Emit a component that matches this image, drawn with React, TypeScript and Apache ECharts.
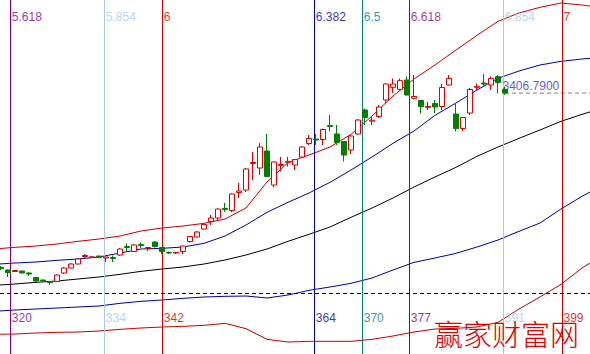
import React, { useEffect, useRef } from "react";
import * as echarts from "echarts";

// Candle bar numbers and OHLC values [open, close, low, high]
const candleBars = [
  319, 320, 321, 322, 323, 324, 325, 326, 327, 328, 329, 330, 331, 332, 333, 334, 335, 336, 337, 338,
  339, 340, 341, 342, 343, 344, 345, 346, 347, 348, 349, 350, 351, 352, 353, 354, 355, 356, 357, 358,
  359, 360, 361, 362, 363, 364, 365, 366, 367, 368, 369, 370, 371, 372, 373, 374, 375, 376, 377, 378,
  379, 380, 381, 382, 383, 384, 385, 386, 387, 388, 389, 390, 391,
];
const ohlc: number[][] = [
  [2883.5, 2880.5, 2876, 2888], [2876, 2868.5, 2855, 2877.5], [2871.5, 2874.5, 2870, 2876], [2873, 2867, 2865.5, 2873.5],
  [2867, 2864, 2858, 2870], [2853.5, 2843, 2840, 2855], [2846, 2843, 2841.5, 2847.5], [2841.5, 2838.5, 2831, 2843],
  [2841.5, 2861, 2840, 2862.5], [2867, 2882, 2864, 2885], [2882, 2894, 2880.5, 2897], [2894, 2909, 2892.5, 2912],
  [2916.5, 2919.5, 2912, 2924], [2913.5, 2915.6, 2912, 2918], [2918, 2913.5, 2912, 2918.5], [2912, 2915, 2900, 2916.5],
  [2913.5, 2910.5, 2900, 2919.5], [2921, 2939, 2918, 2942], [2946.5, 2943.5, 2933, 2955.5], [2931.5, 2951, 2930, 2954],
  [2952.5, 2949.5, 2942, 2958.5], [2940.5, 2943.5, 2933, 2945], [2960, 2946.5, 2943.5, 2961.5], [2943.5, 2931.5, 2924, 2945],
  [2928.5, 2927, 2924, 2931.5], [2927, 2929, 2924, 2930], [2931.5, 2948, 2924, 2949.5], [2961.5, 2976.5, 2958.5, 2978],
  [2975, 2990, 2973.5, 2993], [2999, 3012.5, 2997.5, 3014], [3021.5, 3032, 3011, 3041], [3032, 3059, 3023, 3060.5],
  [3060.5, 3057.5, 3050, 3077], [3054.5, 3104, 3050, 3105.5], [3108.5, 3113, 3092, 3137], [3116, 3179, 3110, 3182],
  [3195.5, 3198.5, 3146, 3230], [3182, 3245, 3161, 3257], [3233, 3156.5, 3155, 3284], [3131, 3200, 3123.5, 3201.5],
  [3189.5, 3192.5, 3171.5, 3215], [3199, 3202, 3186.5, 3215], [3191, 3207.5, 3176, 3209], [3215, 3245, 3212, 3248],
  [3255.5, 3270.5, 3251, 3281], [3269, 3266, 3251, 3284], [3267.5, 3297.5, 3251, 3300.5], [3309.5, 3306.5, 3291.5, 3341],
  [3284, 3258.5, 3251, 3311], [3261.5, 3221, 3201.5, 3263], [3236, 3278, 3224, 3279.5], [3284, 3326, 3281, 3329],
  [3356, 3333.5, 3311, 3360.5], [3322.4, 3325.4, 3311, 3336.5], [3336.5, 3365, 3332, 3371], [3386, 3434, 3375.5, 3435.5],
  [3424, 3434, 3407, 3450.5], [3418, 3444, 3416, 3450.5], [3446, 3401, 3399.5, 3456.5], [3391, 3396.5, 3387.5, 3461],
  [3384.5, 3366.5, 3345.5, 3386], [3364, 3366.5, 3356, 3380], [3375.5, 3365, 3347, 3386], [3366.5, 3423.5, 3356, 3434],
  [3431, 3450.5, 3429.5, 3461], [3344, 3300.5, 3291.5, 3375.5], [3300.5, 3333.5, 3293, 3335], [3347, 3417.5, 3341, 3422],
  [3424, 3427, 3416, 3435.5], [3437, 3434, 3425, 3464], [3431, 3450.5, 3416, 3456.5], [3456, 3438, 3406, 3461],
  [3418, 3406.79, 3401, 3426.5],
];

// Band lines sampled at these bar numbers
const bandBars = [
  318, 321, 324, 327, 330, 333, 336, 339, 342, 345, 348, 351, 354, 357, 360,
  363, 366, 369, 372, 375, 378, 381, 384, 387, 390, 393, 396, 399, 402, 405,
];
const upperRed = [2939, 2944, 2948, 2954, 2962, 2969, 2978, 2993, 3002, 3008, 3016, 3029, 3062, 3140, 3198, 3221, 3245, 3283, 3338, 3398, 3449, 3491, 3536, 3580, 3622, 3647, 3664, 3677, 3671, 3662];
const upperBlue = [2893, 2897, 2900, 2905, 2909, 2915, 2927, 2939, 2941, 2945, 2956, 2978, 3011, 3049, 3079, 3107, 3139, 3176, 3215, 3256, 3293, 3340, 3377, 3416, 3451, 3473, 3491, 3502, 3509, 3515];
const middle = [2830, 2834, 2839, 2843, 2849, 2855, 2863, 2872, 2879, 2885, 2894, 2906, 2921, 2939, 2962, 2983, 3005, 3034, 3062, 3092, 3125, 3155, 3184, 3217, 3245, 3271, 3296, 3322, 3343, 3362];
const lowerBlue = [2752, 2756, 2759, 2762, 2765, 2768, 2776, 2782, 2786, 2791, 2795, 2797, 2798, 2792, 2801, 2815, 2825, 2836, 2852, 2876, 2899, 2912, 2926, 2945, 2966, 2992, 3017, 3059, 3097, 3131];
const lowerRed = [2683, 2684, 2687, 2689, 2690, 2693, 2698, 2702, 2705, 2707, 2710, 2716, 2700, 2668, 2660, 2662, 2662, 2662, 2668, 2678, 2690, 2699, 2701, 2705, 2719, 2759, 2795, 2833, 2882, 2921];

// Fibonacci time lines
const fibRatios = ["5.618", "5.854", "6", "6.382", "6.5", "6.618", "6.854", "7"];
const fibBarLabels = ["320", "334", "342", "364", "370", "377", "391", "399"];
const fibBars = [320.33, 333.76, 342.04, 363.76, 370.61, 377.33, 390.76, 399.14];
const fibColors = ["#800080", "#a6caf0", "#cc0000", "#0000b0", "#008080", "#800080", "#a6caf0", "#cc0000"];

const lastPrice = 3406.79;
const lastPriceText = "3406.7900";
const dashedLevel = 2806;

const X_MIN = 318.857;
const X_MAX = 403.143;
const Y_MIN = 2624;
const Y_MAX = 3686;
const TOP_LABEL_Y = 3636;
const BOTTOM_LABEL_Y = 2733;

export default function App() {
  const ref = useRef<HTMLDivElement>(null);
  useEffect(() => {
    if (!ref.current) return;
    const chart = echarts.init(ref.current, null, { renderer: "svg" });
    const zip = (ys: number[]) => bandBars.map((b, i) => [b, ys[i]]);
    const bandSeries = (name: string, ys: number[], color: string) => ({
      name,
      type: "line",
      data: zip(ys),
      symbol: "none",
      silent: true,
      lineStyle: { color, width: 1 },
      z: 3,
    });
    const font = "Liberation Sans, Arial, sans-serif";
    chart.setOption({
      animation: false,
      backgroundColor: "#ffffff",
      grid: { left: 0, right: 0, top: 0, bottom: 0 },
      xAxis: { type: "value", min: X_MIN, max: X_MAX, show: false },
      yAxis: { type: "value", min: Y_MIN, max: Y_MAX, show: false, scale: true },
      series: [
        {
          name: "fib",
          type: "line",
          data: [],
          silent: true,
          markLine: {
            silent: true,
            symbol: "none",
            label: { show: false },
            data: [
              ...fibBars.map((b, i) => ({ xAxis: b, lineStyle: { color: fibColors[i], width: 1, type: "solid" } })),
              { yAxis: dashedLevel, lineStyle: { color: "#000000", width: 1, type: [4, 3] } },
            ],
          },
          z: 1,
        },
        bandSeries("upperRed", upperRed, "#c80000"),
        bandSeries("upperBlue", upperBlue, "#0000a8"),
        bandSeries("middle", middle, "#000000"),
        bandSeries("lowerBlue", lowerBlue, "#0000a8"),
        bandSeries("lowerRed", lowerRed, "#c80000"),
        {
          name: "priceLine",
          type: "line",
          data: [[candleBars[candleBars.length - 1], lastPrice], [X_MAX + 1, lastPrice]],
          symbol: "none",
          silent: true,
          lineStyle: { color: "#808080", width: 1, type: [4, 3] },
          z: 2,
        },
        {
          name: "kline",
          type: "candlestick",
          data: candleBars.map((b, i) => [b, ...ohlc[i]]),
          encode: { x: 0, y: [1, 2, 3, 4] },
          barWidth: 5,
          silent: true,
          itemStyle: {
            color: "#ffffff",
            color0: "#008000",
            borderColor: "#e00000",
            borderColor0: "#008000",
            borderWidth: 1,
          },
          z: 5,
        },
        {
          name: "fibTopLabels",
          type: "scatter",
          symbolSize: 1,
          itemStyle: { color: "transparent" },
          silent: true,
          data: fibBars.map((b, i) => ({
            value: [b, TOP_LABEL_Y],
            label: { formatter: fibRatios[i], color: fibColors[i] },
          })),
          label: { show: true, position: "right", distance: 1, fontSize: 12, fontFamily: font },
          z: 6,
        },
        {
          name: "fibBottomLabels",
          type: "scatter",
          symbolSize: 1,
          itemStyle: { color: "transparent" },
          silent: true,
          data: fibBars.map((b, i) => ({
            value: [b, BOTTOM_LABEL_Y],
            label: { formatter: fibBarLabels[i], color: fibColors[i] },
          })),
          label: { show: true, position: "right", distance: 1, fontSize: 12, fontFamily: font },
          z: 6,
        },
        {
          name: "lastLabel",
          type: "scatter",
          symbolSize: 1,
          itemStyle: { color: "transparent" },
          silent: true,
          data: [{ value: [candleBars[candleBars.length - 1], lastPrice] }],
          label: {
            show: true,
            position: "right",
            distance: 0,
            offset: [-3, -7],
            formatter: lastPriceText,
            color: "#3333cc",
            fontSize: 12,
            fontFamily: font,
          },
          z: 7,
        },
      ],
      graphic: [
        {
          type: "text",
          left: 434,
          top: 318,
          z: 100,
          style: {
            text: "赢家财富网",
            fill: "#e00000",
            fontSize: 29,
            fontFamily: "Noto Sans CJK SC",
            fontWeight: 300,
          },
        },
      ],
    });
    return () => chart.dispose();
  }, []);
  return <div ref={ref} style={{ position: "fixed", left: 0, top: 0, width: 590, height: 354 }} />;
}
